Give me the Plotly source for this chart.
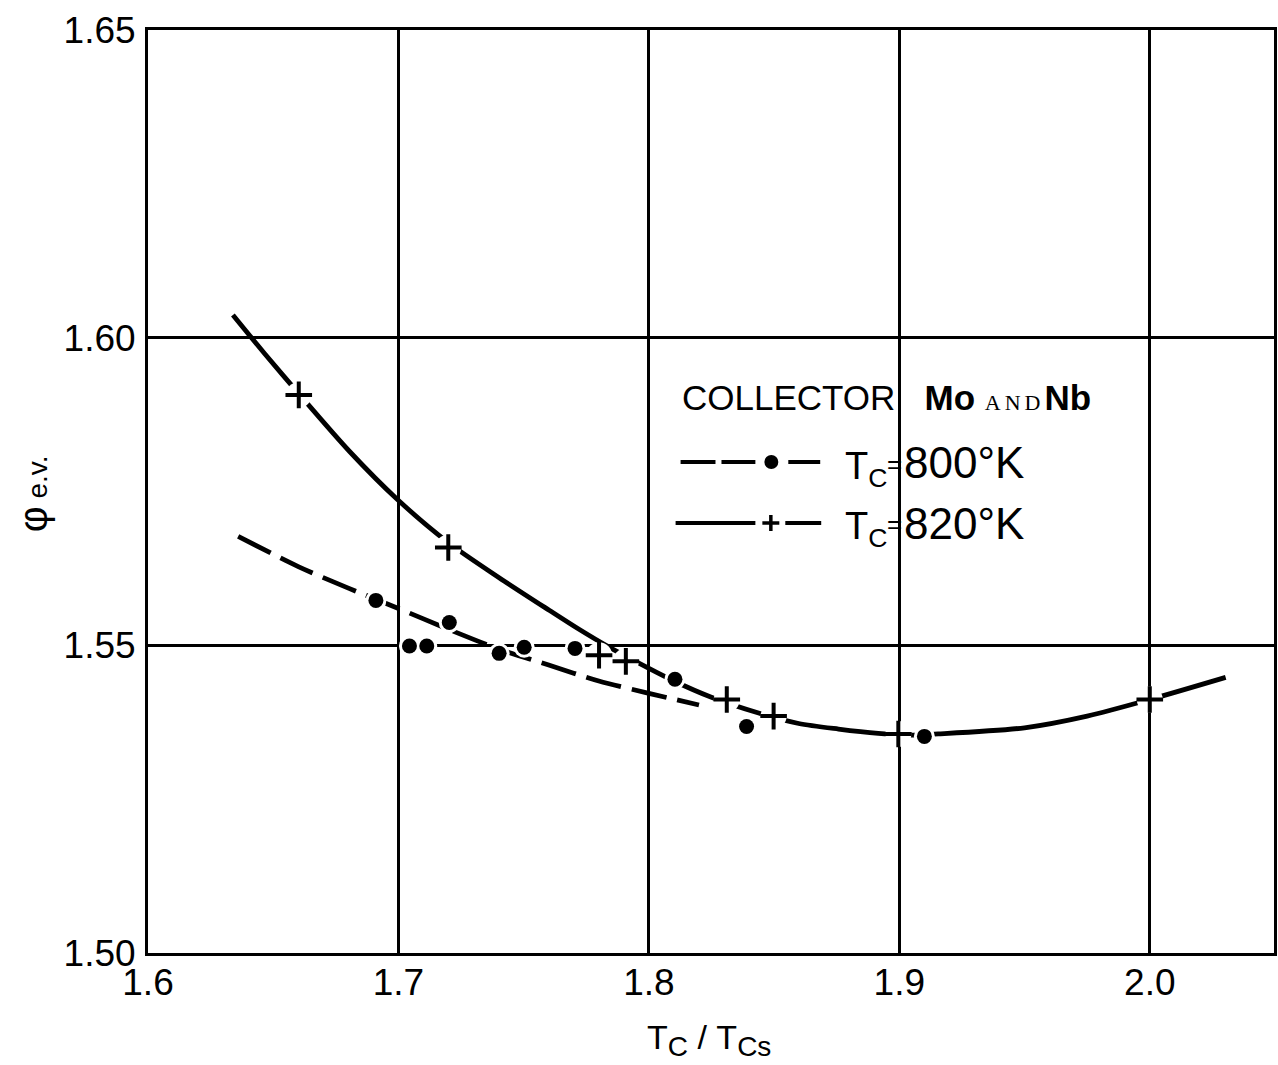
import plotly.graph_objects as go

# ---------------- data ----------------
# T_C = 800 K : dashed curve and filled-circle points
x_800_curve = [1.636, 1.66, 1.68, 1.70, 1.72, 1.74, 1.76, 1.78, 1.80, 1.82]
y_800_curve = [1.5677, 1.5628, 1.5593, 1.5560, 1.5526, 1.5494, 1.5468, 1.5442, 1.5422, 1.5403]
x_800_pts = [1.691, 1.7044, 1.7113, 1.7203, 1.7402, 1.7502, 1.7705, 1.8104, 1.8390, 1.9100]
y_800_pts = [1.5573, 1.5499, 1.5499, 1.5537, 1.5487, 1.5497, 1.5495, 1.5445, 1.5368, 1.5352]

# T_C = 820 K : solid curve and plus points
x_820_curve = [1.6339, 1.6466, 1.6602, 1.6805, 1.6996, 1.7199, 1.7402, 1.7602, 1.7721, 1.7841,
               1.7960, 1.8100, 1.8247, 1.8438, 1.8598, 1.8757, 1.8916, 1.9036, 1.9155, 1.9500,
               1.9750, 2.0000, 2.0303]
y_820_curve = [1.6037, 1.5974, 1.5909, 1.5815, 1.5737, 1.5667, 1.5610, 1.5557, 1.5526, 1.5497,
               1.5471, 1.5442, 1.5416, 1.5390, 1.5373, 1.5364, 1.5357, 1.5354, 1.5356, 1.5366,
               1.5385, 1.5412, 1.5448]
x_820_pts = [1.6602, 1.7199, 1.7801, 1.7908, 1.8311, 1.8498, 1.8996, 2.0000]
y_820_pts = [1.5907, 1.5659, 1.5484, 1.5474, 1.5412, 1.5385, 1.5356, 1.5412]

x_tick_vals = [1.6, 1.7, 1.8, 1.9, 2.0]
x_tick_text = ["1.6", "1.7", "1.8", "1.9", "2.0"]
y_tick_vals = [1.50, 1.55, 1.60, 1.65]
y_tick_text = ["1.50", "1.55", "1.60", "1.65"]

# ---------------- layout geometry ----------------
W, H = 1278, 1065
ML, MR, MT, MB = 148, 1, 30, 112
PW, PH = W - ML - MR, H - MT - MB


def px(xp):
    return (xp - ML) / PW


def py(yp):
    return (H - MB - yp) / PH


FONT = "Liberation Sans, Arial, sans-serif"
BLACK = "#000000"

fig = go.Figure()

# curves
fig.add_trace(go.Scatter(
    x=x_800_curve, y=y_800_curve, mode="lines",
    line=dict(color=BLACK, width=4.8, dash="36px,11px", shape="spline", smoothing=0.8),
    showlegend=False, hoverinfo="skip"))
fig.add_trace(go.Scatter(
    x=x_820_curve, y=y_820_curve, mode="lines",
    line=dict(color=BLACK, width=4.8, shape="spline", smoothing=0.8),
    showlegend=False, hoverinfo="skip"))

# white halos giving the small breaks of the line around each point
fig.add_trace(go.Scatter(
    x=x_820_pts, y=y_820_pts, mode="markers",
    marker=dict(symbol="circle", size=26, color="white", line=dict(width=0)),
    showlegend=False, hoverinfo="skip"))
fig.add_trace(go.Scatter(
    x=x_800_pts, y=y_800_pts, mode="markers",
    marker=dict(symbol="circle", size=21, color="white", line=dict(width=0)),
    showlegend=False, hoverinfo="skip"))

# points
fig.add_trace(go.Scatter(
    x=x_800_pts, y=y_800_pts, mode="markers",
    marker=dict(symbol="circle", size=15, color=BLACK, line=dict(width=0)),
    showlegend=False))
fig.add_trace(go.Scatter(
    x=x_820_pts, y=y_820_pts, mode="markers",
    marker=dict(symbol="cross-thin", size=19, color=BLACK, line=dict(width=4, color=BLACK)),
    showlegend=False))

# ---------------- legend box drawn by hand ----------------
shapes = []
LW = 4
# row 1: 800 K  (— — • —)
r1 = 462
for a, b in [(682, 717), (723, 757), (790, 822)]:
    shapes.append(dict(type="line", xref="paper", yref="paper", x0=px(a), x1=px(b), y0=py(r1), y1=py(r1),
                       line=dict(color=BLACK, width=LW)))
shapes.append(dict(type="circle", xref="paper", yref="paper", x0=px(766), x1=px(780), y0=py(469), y1=py(455),
                   fillcolor=BLACK, line=dict(color=BLACK, width=0)))
# row 2: 820 K  (——— + —)
r2 = 523
for a, b in [(677, 757), (787, 823)]:
    shapes.append(dict(type="line", xref="paper", yref="paper", x0=px(a), x1=px(b), y0=py(r2), y1=py(r2),
                       line=dict(color=BLACK, width=LW)))
shapes.append(dict(type="line", xref="paper", yref="paper", x0=px(764), x1=px(781), y0=py(r2), y1=py(r2),
                   line=dict(color=BLACK, width=3.5)))
shapes.append(dict(type="line", xref="paper", yref="paper", x0=px(772.5), x1=px(772.5), y0=py(r2 - 8), y1=py(r2 + 8),
                   line=dict(color=BLACK, width=3.5)))


def txt(text, xp, yp, size, xanchor="left", **kw):
    return dict(text=text, x=px(xp), y=py(yp), xref="paper", yref="paper",
                xanchor=xanchor, yanchor="middle", showarrow=False,
                font=dict(family=FONT, size=size, color=BLACK), **kw)


annotations = [
    txt("COLLECTOR&nbsp;&nbsp;&nbsp;<b>Mo</b>&nbsp;"
        "<span style='font-family:Liberation Serif;font-size:22px;letter-spacing:4px'>AND</span>"
        "<b>Nb</b>", 681, 398, 35),
    # legend row 800 K
    txt("T<sub>C</sub>", 845, 469, 38),
    txt("=", 896, 464, 26, xanchor="center"),
    txt("800°K", 1028, 463, 44, xanchor="right"),
    # legend row 820 K
    txt("T<sub>C</sub>", 845, 529, 38),
    txt("=", 896, 524, 26, xanchor="center"),
    txt("820°K", 1028, 523, 44, xanchor="right"),
    # axis titles
    txt("T<sub><span style='font-size:28px'>C</span></sub>&nbsp;/&nbsp;"
        "T<sub><span style='font-size:28px'>Cs</span></sub>", 710, 1040, 34, xanchor="center"),
    txt("<span style='font-size:40px'>φ</span> e.v.", 33, 494, 28, xanchor="center", textangle=-90),
]

fig.update_layout(
    width=W, height=H,
    margin=dict(l=ML, r=MR, t=MT, b=MB),
    paper_bgcolor="white", plot_bgcolor="white",
    shapes=shapes, annotations=annotations,
    showlegend=False,
    xaxis=dict(range=[1.6, 2.0496], tickvals=x_tick_vals, ticktext=x_tick_text,
               showgrid=True, gridcolor=BLACK, gridwidth=2.5, zeroline=False,
               showline=True, linecolor=BLACK, linewidth=3, mirror=True,
               ticks="", ticklabelstandoff=-5,
               tickfont=dict(family=FONT, size=37, color=BLACK)),
    yaxis=dict(range=[1.50, 1.65], tickvals=y_tick_vals, ticktext=y_tick_text,
               showgrid=True, gridcolor=BLACK, gridwidth=2.5, zeroline=False,
               showline=True, linecolor=BLACK, linewidth=3, mirror=True,
               ticks="", ticklabelstandoff=2,
               tickfont=dict(family=FONT, size=37, color=BLACK)),
)

fig.write_html("out.html", config={"displayModeBar": False},
               post_script="document.body.style.margin='0px';")
